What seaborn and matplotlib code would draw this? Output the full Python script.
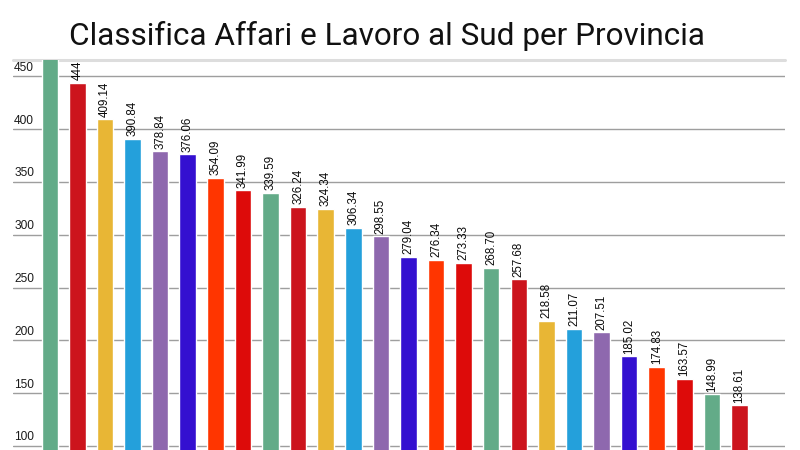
import matplotlib
matplotlib.use("Agg")
import matplotlib.pyplot as plt
import seaborn as sns
import pandas as pd
from matplotlib import transforms

# ---- data ----
ranks = [str(i) for i in range(1, 27)]
values = [472, 444, 409.14, 390.84, 378.84, 376.06, 354.09, 341.99, 339.59,
          326.24, 324.34, 306.34, 298.55, 279.04, 276.34, 273.33, 268.70,
          257.68, 218.58, 211.07, 207.51, 185.02, 174.83, 163.57, 148.99, 138.61]
value_labels = ["", "444", "409.14", "390.84", "378.84", "376.06", "354.09",
                "341.99", "339.59", "326.24", "324.34", "306.34", "298.55",
                "279.04", "276.34", "273.33", "268.70", "257.68", "218.58",
                "211.07", "207.51", "185.02", "174.83", "163.57", "148.99",
                "138.61"]
palette_cycle = ["#63AB88", "#CC141D", "#E8B635", "#24A0DB",
                 "#8E68AE", "#3410D0", "#FF3500", "#DD0B0A"]
y_ticks = [100, 150, 200, 250, 300, 350, 400, 450]
title = "Classifica Affari e Lavoro al Sud per Provincia"

colors = [palette_cycle[i % len(palette_cycle)] for i in range(len(values))]
df = pd.DataFrame({"rank": ranks, "value": values})

sns.set_theme(style="white")
plt.rcParams["font.family"] = ["Liberation Sans", "DejaVu Sans"]

W, H = 800, 450
fig = plt.figure(figsize=(8, 4.5), dpi=100)
fig.patch.set_facecolor("white")

ax_left, ax_right, ax_top, ax_bottom = 13, 785, 59.5, 450
ax = fig.add_axes([ax_left / W, 1 - ax_bottom / H,
                   (ax_right - ax_left) / W, (ax_bottom - ax_top) / H])

sns.barplot(data=df, x="rank", y="value", hue="rank",
            palette=dict(zip(ranks, colors)), legend=False,
            width=0.6, saturation=1, ax=ax, zorder=3)

ax.set_xlim(-1.334, 26.65)
ax.set_ylim(96.2, 465.8)
for s in ax.spines.values():
    s.set_visible(False)
ax.set_xlabel("")
ax.set_ylabel("")
ax.set_xticks([])
ax.set_yticks(y_ticks)
ax.tick_params(axis="y", length=0, labelleft=False)
ax.yaxis.grid(True, color="#9e9e9e", linewidth=1.0, zorder=1)
ax.set_axisbelow(True)

# top thick light line
ax.axhline(465.8, color="#dddddd", linewidth=2.2, clip_on=False, zorder=2)

# y tick labels placed above gridlines
blend = transforms.blended_transform_factory(ax.transAxes, ax.transData)
for t in y_ticks:
    ax.annotate(str(t), xy=(0.0015, t), xycoords=blend,
                xytext=(0, 1.8), textcoords="offset points",
                ha="left", va="bottom", fontsize=8.6, color="#1a1a1a")

# value labels
for i, (v, lab) in enumerate(zip(values, value_labels)):
    if lab:
        ax.annotate(lab, xy=(i, v), xytext=(0, 1.8), textcoords="offset points",
                    ha="center", va="bottom", rotation=90, fontsize=8.3,
                    color="#0a0a0a", annotation_clip=True)

fig.text(386.5 / W, 1 - 45 / H, title, ha="center", va="baseline",
         fontsize=22.7, family=["Roboto", "DejaVu Sans"], color="#111111")

fig.savefig("out.png", dpi=100, facecolor="white")
